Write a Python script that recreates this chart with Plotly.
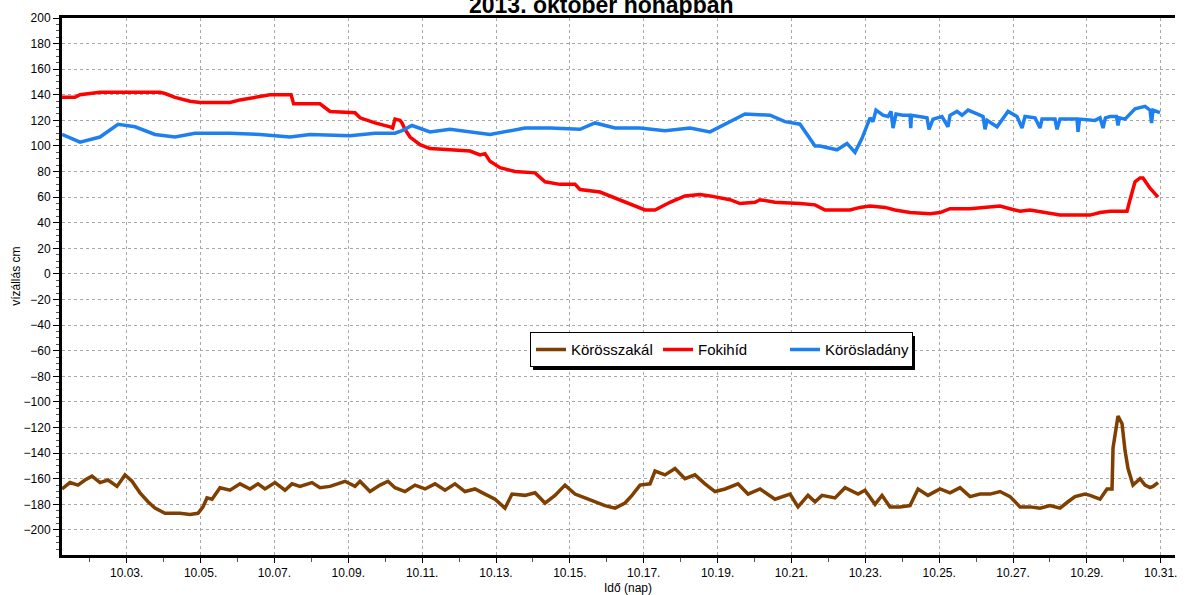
import numpy as np
import pandas as pd
import plotly.graph_objects as go

# ---- data (day of October, value in cm) ----
szakal_day = [1.248, 1.464, 1.681, 1.871, 2.060, 2.277, 2.493, 2.737, 2.954, 3.143, 3.360, 3.577, 3.766,
              4.037, 4.443, 4.714, 4.930, 5.066, 5.174, 5.310, 5.526, 5.797, 6.068, 6.339, 6.555, 6.745,
              7.015, 7.286, 7.476, 7.692, 8.017, 8.234, 8.505, 8.911, 9.182, 9.317, 9.588, 9.859, 10.075,
              10.265, 10.536, 10.806, 11.077, 11.348, 11.619, 11.889, 12.160, 12.431, 12.702, 12.973,
              13.243, 13.433, 13.785, 14.056, 14.327, 14.597, 14.868, 15.139, 15.410, 15.680, 15.951,
              16.222, 16.493, 16.682, 16.899, 17.170, 17.305, 17.576, 17.847, 18.117, 18.388, 18.659,
              18.930, 19.201, 19.553, 19.823, 20.148, 20.554, 20.961, 21.177, 21.448, 21.638, 21.827,
              22.179, 22.450, 22.802, 22.991, 23.262, 23.452, 23.668, 23.939, 24.210, 24.427, 24.697,
              25.022, 25.293, 25.564, 25.835, 26.105, 26.376, 26.647, 26.918, 27.189, 27.459, 27.730,
              28.001, 28.272, 28.488, 28.678, 28.949, 29.084, 29.355, 29.544, 29.680, 29.707, 29.842,
              29.951, 30.032, 30.113, 30.248, 30.357, 30.438, 30.573, 30.709, 30.790, 30.925]
szakal_val = [-168, -163, -165, -161, -158, -163, -161, -166, -157, -162, -171, -178, -183,
              -187, -187, -188, -187, -182, -175, -176, -167, -169, -164, -168, -164, -168,
              -163, -169, -164, -166, -163, -167, -166, -162, -166, -162, -170, -165, -162,
              -167, -170, -165, -168, -164, -169, -164, -170, -168, -172, -176,
              -183, -172, -173, -171, -179, -173, -165, -172, -175, -178, -181,
              -183, -179, -173, -165, -164, -154, -157, -152, -160, -157, -164,
              -170, -168, -164, -172, -168, -176, -172, -182, -173, -178, -173,
              -175, -167, -172, -169, -180, -173, -182, -182, -181, -168, -173,
              -168, -171, -167, -174, -172, -172, -170, -174, -182, -182, -183,
              -181, -183, -178, -174, -172, -173, -176, -168, -168, -136, -111,
              -117, -138, -152, -165, -162, -160, -165, -167, -166, -163]

foki_day = [1.248, 1.60, 1.735, 2.06, 2.277, 3.90, 4.037, 4.308, 4.714, 4.985, 5.797, 6.068, 6.474,
            6.88, 7.422, 7.45, 7.52, 8.234, 8.505, 9.182, 9.317, 9.723, 10.129, 10.20, 10.265, 10.40,
            10.454, 10.536, 10.671, 10.942, 11.213, 12.025, 12.296, 12.566, 12.702, 12.837, 13.108,
            13.514, 14.056, 14.327, 14.733, 15.139, 15.274, 15.816, 16.357, 16.764, 17.034, 17.305,
            17.711, 18.117, 18.524, 18.794, 19.336, 19.607, 20.013, 20.148, 20.554, 21.231, 21.638,
            21.908, 22.585, 22.856, 23.127, 23.533, 23.804, 24.21, 24.752, 25.022, 25.293, 25.835,
            26.241, 26.647, 26.918, 27.189, 27.459, 27.866, 28.272, 29.084, 29.355, 29.626, 30.086,
            30.167, 30.303, 30.438, 30.519, 30.709, 30.925]
foki_val = [138, 138, 140, 141, 142, 142, 141, 138, 135, 134, 134, 136, 138,
            140, 140, 140, 133, 133, 127, 126, 122, 118, 115, 114, 121, 120,
            118, 113, 107, 101, 98, 97, 96, 93, 94, 88, 83,
            80, 79, 72, 70, 70, 66, 64, 58, 53, 50, 50,
            56, 61, 62, 61, 58, 55, 56, 58, 56, 55, 54,
            50, 50, 52, 53, 52, 50, 48, 47, 48, 51, 51,
            52, 53, 51, 49, 50, 48, 46, 46, 48, 49, 49,
            58, 72, 75, 75, 67, 60]

lad_day = [1.248, 1.735, 2.277, 2.764, 3.225, 3.766, 4.308, 4.849, 5.797, 6.609, 7.422, 7.963, 9.046,
           9.723, 10.265, 10.454, 10.725, 11.213, 11.754, 12.837, 13.785, 14.462, 15.274, 15.680,
           16.222, 16.899, 17.576, 18.253, 18.794, 19.336, 19.742, 20.419, 20.825, 21.231, 21.638,
           21.773, 22.233, 22.504, 22.721, 22.910, 23.127, 23.208, 23.289, 23.479, 23.614, 23.696,
           23.750, 23.831, 24.020, 24.210, 24.23, 24.25, 24.481, 24.670, 24.724, 24.833, 25.076,
           25.239, 25.293, 25.483, 25.618, 25.781, 26.024, 26.187, 26.241, 26.295, 26.566, 26.701,
           26.864, 27.107, 27.243, 27.324, 27.595, 27.730, 27.784, 28.136, 28.190, 28.272, 28.732,
           28.759, 28.80, 29.219, 29.355, 29.436, 29.50, 29.626, 29.80, 29.842, 29.88, 30.032,
           30.303, 30.573, 30.709, 30.75, 30.79, 30.979]
lad_val = [109, 103, 107, 117, 115, 109, 107, 110, 110, 109, 107, 109, 108,
           110, 110, 112, 116, 111, 113, 109, 114, 114, 113, 118,
           114, 114, 112, 114, 111, 119, 125, 124, 119, 117, 100,
           100, 97, 102, 95, 106, 122, 119, 128, 124, 123, 127,
           114, 125, 124, 124, 114, 124, 123, 122, 113, 121, 123,
           115, 124, 127, 124, 128, 125, 123, 113, 120, 115, 120,
           127, 123, 114, 123, 122, 114, 121, 121, 113, 121, 121,
           111, 121, 120, 122, 114, 122, 123, 123, 116, 122, 121,
           129, 131, 128, 118, 128, 126]

series_names = ["Körösszakál", "Fokihíd", "Körösladány"]
series_colors = ["#7f3f00", "#ff0000", "#1e80f0"]

x_range_days = [1.248, 31.385]
title_text = "2013. október hónapban"
y_title = "vízállás cm"
x_title = "Idő (nap)"


def to_dates(days):
    return pd.Timestamp("2013-10-01") + pd.to_timedelta(np.asarray(days, dtype=float) - 1.0, unit="D")


fig = go.Figure()
for d, v, name, col in zip([szakal_day, foki_day, lad_day], [szakal_val, foki_val, lad_val],
                           series_names, series_colors):
    fig.add_trace(go.Scatter(x=to_dates(d), y=v, mode="lines", name=name,
                             line=dict(color=col, width=3.5)))

FONT = "Liberation Sans, Arial, Helvetica, sans-serif"

fig.update_layout(
    width=1188, height=595,
    margin=dict(l=62, r=13, t=18, b=40),
    paper_bgcolor="white", plot_bgcolor="white",
    font=dict(family=FONT, size=12, color="black"),
    showlegend=True,
    legend=dict(orientation="h", x=0.4205, y=0.382, xanchor="left", yanchor="middle",
                bgcolor="white", bordercolor="black", borderwidth=1,
                font=dict(size=15, family=FONT), entrywidth=82, entrywidthmode="pixels",
                itemwidth=30),
)

fig.update_xaxes(
    type="date",
    range=list(to_dates(x_range_days)),
    tickformat="%m.%d.", tick0="2013-10-03", dtick=2 * 86400000,
    showgrid=True, gridcolor="#a8a8a8", griddash="dot", gridwidth=1,
    showline=True, linecolor="black", linewidth=3, mirror=True,
    ticks="outside", ticklen=5, tickcolor="black", tickwidth=1,
    minor=dict(dtick=86400000, tick0="2013-10-02", ticks="outside", ticklen=4,
               tickcolor="#555555", showgrid=False),
    zeroline=False, tickfont=dict(size=12),
)
fig.update_yaxes(
    range=[-219.6, 200], tick0=0, dtick=20,
    showgrid=True, gridcolor="#a8a8a8", griddash="dot", gridwidth=1,
    showline=True, linecolor="black", linewidth=3, mirror=False,
    ticks="outside", ticklen=6, tickcolor="black", tickwidth=1,
    minor=dict(dtick=5, ticks="outside", ticklen=3, tickcolor="#555555", showgrid=False),
    zeroline=False, tickfont=dict(size=12),
)

# title (partly cut by the top edge, as in the reference)
fig.add_annotation(text="<b>" + title_text + "</b>", xref="paper", yref="paper", x=0.4843, y=1.0,
                   xanchor="center", yanchor="bottom", showarrow=False,
                   font=dict(size=23, family=FONT, color="black"), yshift=-2)
fig.add_annotation(text=y_title, xref="paper", yref="paper", x=-0.0413, y=0.518,
                   xanchor="center", yanchor="middle", textangle=-90, showarrow=False,
                   font=dict(size=12, family=FONT))
fig.add_annotation(text=x_title, xref="paper", yref="paper", x=0.5085, y=-0.0615,
                   xanchor="center", yanchor="middle", showarrow=False,
                   font=dict(size=12, family=FONT))

# legend drop shadow
fig.add_shape(type="rect", xref="paper", yref="paper", x0=0.4232, x1=0.7664, y0=0.3445, y1=0.4078,
              fillcolor="black", line=dict(width=0), layer="above")

fig.write_html("out.html", config={"displayModeBar": False},
               post_script=["document.body.style.margin='0';document.body.style.overflow='hidden';"])
